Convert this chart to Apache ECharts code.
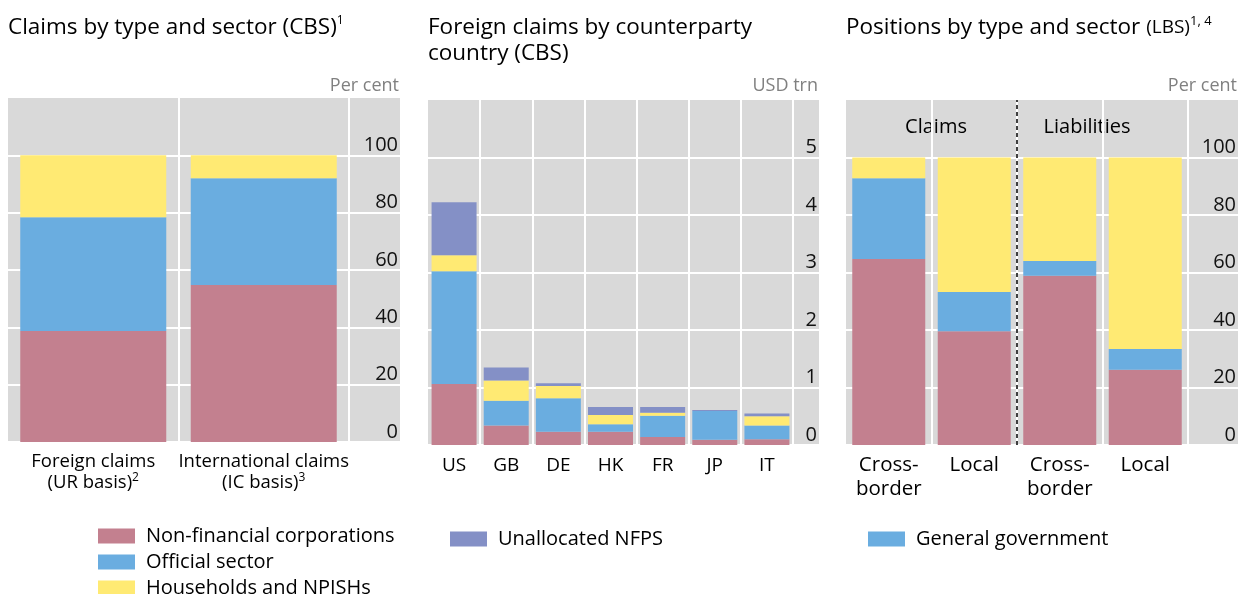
<!DOCTYPE html>
<html>
<head>
    <meta charset="utf-8">
    <title>Claims and positions by sector</title>
    <script src="https://cdn.jsdelivr.net/npm/echarts@6/dist/echarts.min.js"></script>
    <style>
        body { margin: 0; background: #fff; }
        #chart { width: 1239px; height: 594px; }
    </style>
</head>
<body>
<div id="chart"></div>
<script>
    // left panel: claims by type and sector (CBS), per cent
    var cbsTypes = ['Foreign claims\n(UR basis){s|2}', 'International claims\n(IC basis){s|3}'];
    var cbsNfc = [38.7, 54.8];
    var cbsOfficial = [39.7, 37.2];
    var cbsHouseholds = [21.6, 8.0];

    // middle panel: foreign claims by counterparty country, USD trn
    var countries = ['US', 'GB', 'DE', 'HK', 'FR', 'JP', 'IT'];
    var ctyNfc = [1.06, 0.34, 0.23, 0.23, 0.14, 0.09, 0.10];
    var ctyOfficial = [1.96, 0.43, 0.585, 0.13, 0.37, 0.50, 0.24];
    var ctyHouseholds = [0.28, 0.35, 0.21, 0.16, 0.05, 0, 0.16];
    var ctyUnallocated = [0.92, 0.23, 0.05, 0.14, 0.10, 0.02, 0.05];

    // right panel: positions by type and sector (LBS), per cent
    var lbsTypes = ['Cross-\nborder', 'Local', 'Cross-\nborder', 'Local'];
    var lbsNfc = [64.7, 39.6, 58.9, 26.2];
    var lbsGov = [28.1, 13.6, 5.1, 7.2];
    var lbsHouseholds = [7.2, 46.8, 36.0, 66.6];

    var pctTicks = [0, 20, 40, 60, 80, 100];
    var usdTicks = [0, 1, 2, 3, 4, 5];

    var FONT = 'Open Sans';
    var RED = '#c3808f', BLUE = '#6aade0', YELLOW = '#ffea73', PURPLE = '#8490c6';
    var BG = '#d9d9d9';

    var chart = echarts.init(document.getElementById('chart'));

    var supRich = {
        s: { fontSize: 12, fontFamily: FONT, fontWeight: 'normal', color: '#000', verticalAlign: 'top', lineHeight: 12 },
        u: { fontSize: 13, fontFamily: FONT, fontWeight: 'normal', color: '#000', verticalAlign: 'top', lineHeight: 13 },
        m: { fontSize: 19, fontFamily: FONT, fontWeight: 'normal', color: '#000' },
        t: { fontSize: 22.5, fontFamily: FONT, fontWeight: 'normal', color: '#000', lineHeight: 26 }
    };

    // background grid: grey plate, white grid lines, inside tick labels on the right
    function bgX(grid, max) {
        return {
            gridIndex: grid, type: 'value', min: 0, max: max, interval: 1,
            axisLine: { show: false }, axisTick: { show: false }, axisLabel: { show: false },
            splitLine: { show: true, showMinLine: false, showMaxLine: false, lineStyle: { color: '#fff', width: 2 } }
        };
    }
    function bgY(grid, max, step, ticks) {
        return {
            gridIndex: grid, type: 'value', position: 'right', min: 0, max: max, interval: step,
            axisLine: { show: false }, axisTick: { show: false },
            axisLabel: {
                inside: true, margin: 2, verticalAlign: 'bottom', lineHeight: 20,
                fontSize: 20, fontFamily: FONT, color: '#111',
                formatter: function (v) { return ticks.indexOf(v) >= 0 ? String(v) : ''; }
            },
            splitLine: { show: true, showMaxLine: false, lineStyle: { color: '#fff', width: 2 } }
        };
    }
    function barX(grid, cats, fs, lh, margin) {
        return {
            gridIndex: grid, type: 'category', data: cats,
            axisLine: { show: false }, axisTick: { show: false }, splitLine: { show: false },
            axisLabel: { interval: 0, margin: margin, fontSize: fs, lineHeight: lh, fontFamily: FONT, color: '#000', rich: supRich }
        };
    }
    function barY(grid, max) {
        return { gridIndex: grid, type: 'value', min: 0, max: max, show: false, splitLine: { show: false } };
    }
    function bar(name, grid, data, color, width) {
        return {
            name: name, type: 'bar', stack: 's' + grid, xAxisIndex: grid, yAxisIndex: grid,
            data: data, barWidth: width, itemStyle: { color: color }, emphasis: { disabled: true }
        };
    }
    function plate(left, top, width, height) {
        return { left: left, top: top, width: width, height: height, show: true, backgroundColor: BG,
                 borderWidth: 0, containLabel: false, outerBoundsMode: 'none' };
    }
    function area(left, top, width, height) {
        return { left: left, top: top, width: width, height: height, containLabel: false, outerBoundsMode: 'none' };
    }
    function note(text, x, y, size, color, align) {
        return { type: 'text', x: x, y: y, silent: true,
                 style: { text: text, fontSize: size, fontFamily: FONT, fill: color, align: align, verticalAlign: 'middle' } };
    }
    function legendItem(name, left, top) {
        return { left: left, top: top, padding: 0, itemWidth: 37, itemHeight: 15, icon: 'rect', selectedMode: false,
                 textStyle: { fontSize: 20, color: '#000', fontFamily: FONT, padding: [0, 0, 0, 6] }, data: [name] };
    }

    var option = {
        animation: false,
        textStyle: { fontFamily: FONT },
        title: [
            { left: 8, top: 15, padding: 0, text: '{t|Claims by type and sector (CBS)}{s|1}',
              textStyle: { rich: supRich } },
            { left: 428, top: 15, padding: 0, text: 'Foreign claims by counterparty\ncountry (CBS)',
              textStyle: { fontSize: 22.5, fontWeight: 'normal', fontFamily: FONT, color: '#000', lineHeight: 26 } },
            { left: 846, top: 15, padding: 0, text: '{t|Positions by type and sector }{m|(LBS)}{u|1, 4}',
              textStyle: { rich: supRich } }
        ],
        legend: [
            legendItem('Non-financial corporations', 98, 526),
            legendItem('Official sector', 98, 552),
            legendItem('Households and NPISHs', 98, 578),
            legendItem('Unallocated NFPS', 450, 529),
            legendItem('General government', 868, 529)
        ],
        grid: [
            plate(8, 98, 392, 344),
            area(8, 98, 341, 344),
            plate(428, 100, 391, 345),
            area(428, 100, 365, 345),
            plate(846, 100, 392, 345),
            area(846, 100, 342, 345)
        ],
        xAxis: [
            bgX(0, 392 / 170.5),
            barX(1, cbsTypes, 18.5, 21, 9),
            bgX(2, 391 / 52.14),
            barX(3, countries, 19, 22, 10),
            bgX(4, 392 / 85.5),
            barX(5, lbsTypes, 20.5, 24, 8)
        ],
        yAxis: [
            bgY(0, 120, 20, pctTicks),
            barY(1, 120),
            bgY(2, 6, 1, usdTicks),
            barY(3, 6),
            bgY(4, 120, 20, pctTicks),
            barY(5, 120)
        ],
        graphic: [
            note('Per cent', 399, 86, 18, '#808080', 'right'),
            note('USD trn', 818, 86, 18, '#808080', 'right'),
            note('Per cent', 1237, 86, 18, '#808080', 'right'),
            note('Claims', 936, 127, 20, '#000', 'center'),
            note('Liabilities', 1087, 127, 20, '#000', 'center')
        ],
        series: [
            bar('Non-financial corporations', 1, cbsNfc, RED, 146),
            bar('Official sector', 1, cbsOfficial, BLUE, 146),
            bar('Households and NPISHs', 1, cbsHouseholds, YELLOW, 146),

            bar('Non-financial corporations', 3, ctyNfc, RED, 45),
            bar('Official sector', 3, ctyOfficial, BLUE, 45),
            bar('Households and NPISHs', 3, ctyHouseholds, YELLOW, 45),
            bar('Unallocated NFPS', 3, ctyUnallocated, PURPLE, 45),

            bar('Non-financial corporations', 5, lbsNfc, RED, 73),
            bar('General government', 5, lbsGov, BLUE, 73),
            bar('Households and NPISHs', 5, lbsHouseholds, YELLOW, 73),

            // divider between claims and liabilities
            {
                type: 'scatter', xAxisIndex: 4, yAxisIndex: 4, data: [[2, 0]], symbolSize: 0, silent: true,
                markLine: {
                    silent: true, symbol: 'none', label: { show: false },
                    lineStyle: { color: '#000', type: [4, 3], width: 1.5 },
                    data: [{ xAxis: 2 }]
                }
            }
        ]
    };

    chart.setOption(option);
</script>
</body>
</html>
